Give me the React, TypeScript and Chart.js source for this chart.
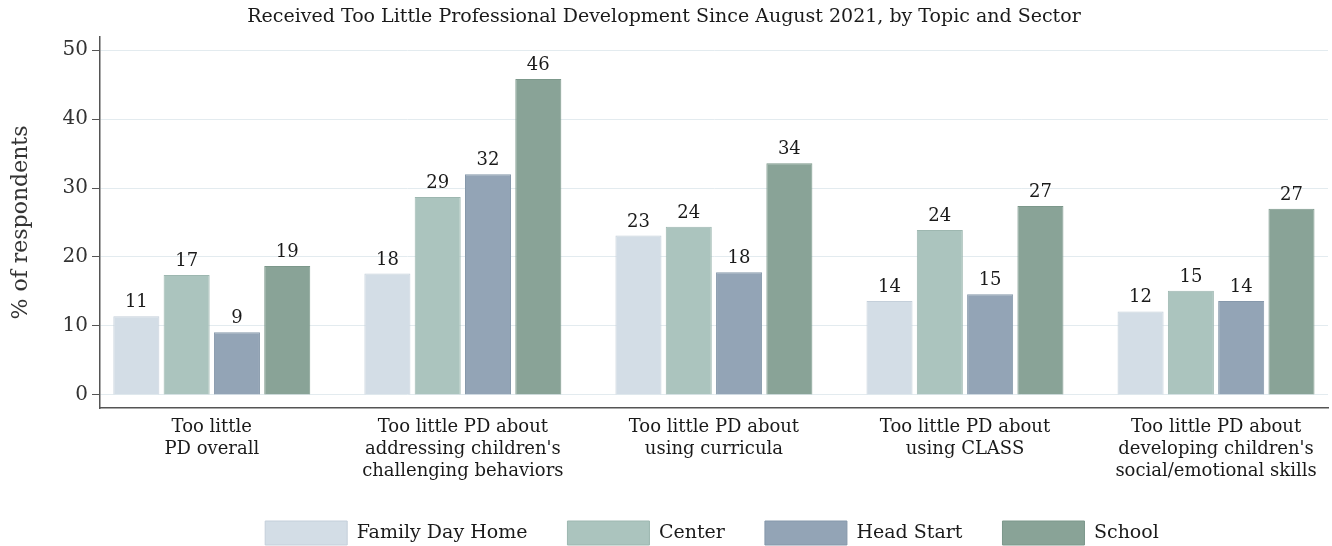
import React, { useEffect, useRef } from "react";
import { Chart, registerables } from "chart.js";

Chart.register(...registerables);

const categories: string[][] = [
  ["Too little", "PD overall"],
  ["Too little PD about", "addressing children's", "challenging behaviors"],
  ["Too little PD about", "using curricula"],
  ["Too little PD about", "using CLASS"],
  ["Too little PD about", "developing children's", "social/emotional skills"],
];
const seriesNames = ["Family Day Home", "Center", "Head Start", "School"];
const familyDayHome = [11.4, 17.6, 23.1, 13.6, 12.1];
const center = [17.4, 28.7, 24.4, 23.9, 15.1];
const headStart = [9.1, 32.0, 17.8, 14.6, 13.6];
const school = [18.7, 45.8, 33.6, 27.4, 27.0];
const yTicks = [0, 10, 20, 30, 40, 50];

const title = "Received Too Little Professional Development Since August 2021, by Topic and Sector";
const yTitle = "% of respondents";

const fills = ["#d3dde6", "#abc4be", "#93a4b6", "#89a397"];
const borders = ["#c4cfda", "#9db7b0", "#8698ab", "#7c988b"];

const FONT = "'DejaVu Serif', serif";
const TEXT = "#1a1a1a";

const valueLabels = {
  id: "valueLabels",
  afterDatasetsDraw(chart: any) {
    const ctx = chart.ctx;
    ctx.save();
    ctx.font = `18px ${FONT}`;
    ctx.fillStyle = TEXT;
    ctx.textAlign = "center";
    ctx.textBaseline = "alphabetic";
    chart.data.datasets.forEach((ds: any, i: number) => {
      const meta = chart.getDatasetMeta(i);
      meta.data.forEach((el: any, j: number) => {
        const v = ds.data[j].y;
        ctx.fillText(String(Math.round(v)), el.x, el.y - 9);
      });
    });
    ctx.restore();
  },
};

const legendShift = {
  id: "legendShift",
  afterLayout(chart: any) {
    const lg = chart.legend;
    if (lg) {
      lg.left += 48;
      lg.right += 48;
    }
  },
};

export default function App() {
  const ref = useRef<HTMLCanvasElement>(null);
  useEffect(() => {
    if (!ref.current) return;
    const series = [familyDayHome, center, headStart, school];
    const chart = new Chart(ref.current, {
      type: "bar",
      data: {
        datasets: series.map((vals, i) => ({
          label: seriesNames[i],
          data: vals.map((v, j) => ({ x: j + 1, y: v })),
          backgroundColor: fills[i],
          borderColor: borders[i],
          borderWidth: 1,
          categoryPercentage: 0.8015,
          barPercentage: 0.915,
        })),
      } as any,
      options: {
        animation: false,
        responsive: false,
        layout: { padding: { left: 0, right: 4, top: 0, bottom: 0 } },
        plugins: {
          tooltip: { enabled: false },
          title: {
            display: true,
            text: title,
            color: TEXT,
            font: { family: FONT, size: 19, weight: "normal" },
            padding: { top: 6, bottom: 8.2 },
          },
          legend: {
            position: "bottom",
            maxHeight: 65,
            labels: {
              boxWidth: 82,
              boxHeight: 24,
              padding: 40,
              color: TEXT,
              font: { family: FONT, size: 19 },
            },
          },
        },
        scales: {
          x: {
            type: "linear",
            min: 0.5547,
            max: 5.446,
            offset: false,
            grid: { display: false, offset: false },
            border: { display: true, color: "#555", width: 1.5 },
            afterBuildTicks: (s: any) => {
              s.ticks = categories.map((_, i) => ({ value: i + 1 }));
            },
            afterFit: (s: any) => {
              s.height = 73;
            },
            ticks: {
              autoSkip: false,
              maxRotation: 0,
              padding: 1,
              color: TEXT,
              font: { family: FONT, size: 18, lineHeight: 1.2 },
              callback: (v: any) => categories[Math.round(v) - 1] as any,
            },
          },
          y: {
            min: -1.9,
            max: 51.9,
            afterBuildTicks: (s: any) => {
              s.ticks = yTicks.map((v) => ({ value: v }));
            },
            afterFit: (s: any) => {
              s.width = 100;
            },
            grid: {
              color: "#e3ebef",
              tickColor: "#555",
              tickLength: 8,
              drawTicks: true,
            },
            border: { display: true, color: "#555", width: 1.5 },
            ticks: {
              padding: 4,
              color: "#333",
              font: { family: FONT, size: 20 },
            },
            title: {
              display: true,
              text: yTitle,
              color: "#333",
              font: { family: FONT, size: 22 },
              padding: { top: 8, bottom: 0 },
            },
          },
        },
      } as any,
      plugins: [valueLabels, legendShift],
    });
    return () => chart.destroy();
  }, []);
  return (
    <div style={{ position: "absolute", left: 0, top: 0, width: 1332, height: 546, background: "#fff" }}>
      <canvas ref={ref} width={1332} height={546} style={{ display: "block" }} />
    </div>
  );
}
